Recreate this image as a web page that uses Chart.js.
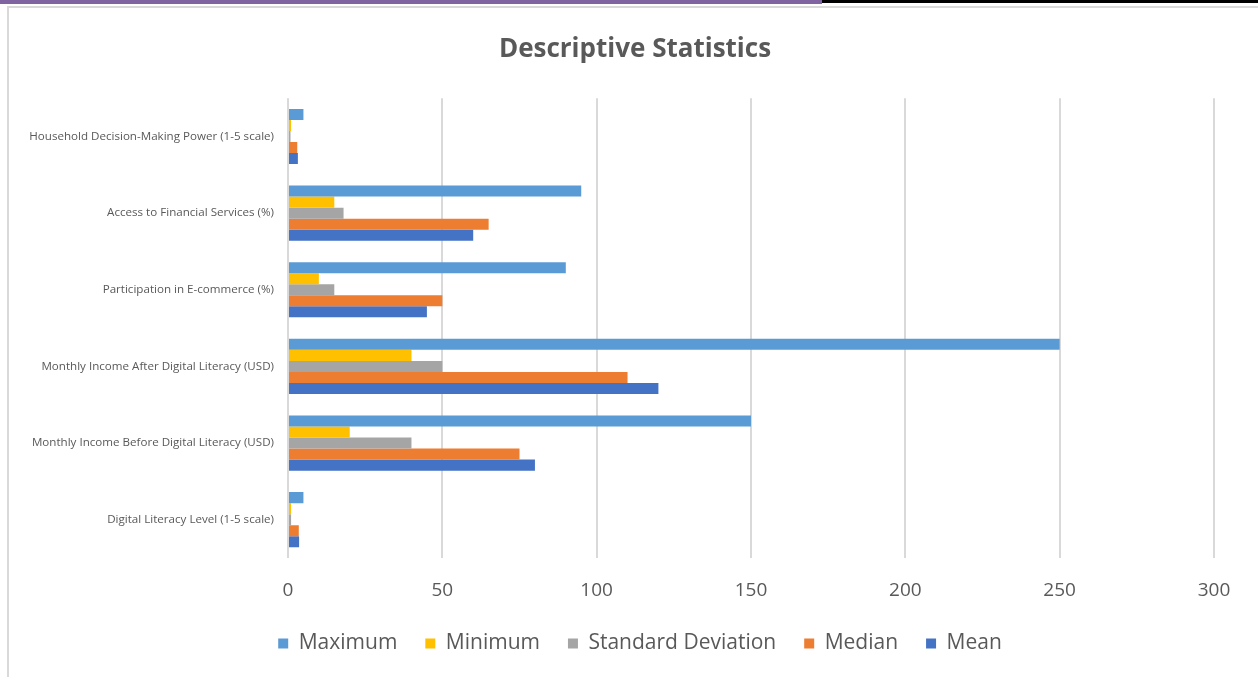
<!DOCTYPE html>
<html>
<head>
<meta charset="utf-8">
<script src="https://cdn.jsdelivr.net/npm/chart.js@4.4.1/dist/chart.umd.min.js"></script>
<style>
  html, body { margin: 0; padding: 0; background: #fff; }
  body { width: 1258px; height: 677px; position: relative; overflow: hidden; }
  #barP { position: absolute; left: 0; top: 0; width: 822px; height: 4px; background: #8064a2; }
  #barK { position: absolute; left: 822px; top: 0; width: 436px; height: 3px; background: #000; }
  #frame { position: absolute; left: 7px; top: 6px; width: 1260px; height: 680px;
           border-left: 2px solid #d9d9d9; border-top: 2px solid #d9d9d9; }
  #wrap { position: absolute; left: 0; top: 0; width: 1258px; height: 677px; }
</style>
</head>
<body>
<div id="barP"></div><div id="barK"></div><div id="frame"></div>
<div id="wrap"><canvas id="c" width="1258" height="677"></canvas></div>
<script>
const categories = [
  "Household Decision-Making Power (1-5 scale)",
  "Access to Financial Services (%)",
  "Participation in E-commerce (%)",
  "Monthly Income After Digital Literacy (USD)",
  "Monthly Income Before Digital Literacy (USD)",
  "Digital Literacy Level (1-5 scale)"
];
const maximum = [5, 95, 90, 250, 150, 5];
const minimum = [1, 15, 10, 40, 20, 1];
const stdDev  = [0.8, 18, 15, 50, 40, 1];
const median  = [3, 65, 50, 110, 75, 3.5];
const mean    = [3.2, 60, 45, 120, 80, 3.6];
const xTicks  = [0, 50, 100, 150, 200, 250, 300];

const seriesNames = ["Maximum", "Minimum", "Standard Deviation", "Median", "Mean"];
const seriesData = [maximum, minimum, stdDev, median, mean];
const seriesColors = ["#5B9BD5", "#FFC000", "#A5A5A5", "#ED7D31", "#4472C4"];

const FONT = "'Open Sans', 'Liberation Sans', Arial, sans-serif";

// shift centred title and legend to match the reference's centring
const centreShift = {
  id: 'centreShift',
  afterLayout(chart) {
    const t = chart.titleBlock;
    if (t) { t.left += 18; t.right += 18; }
    const l = chart.legend;
    if (l) { l.left += 23; l.right += 23; }
  }
};

new Chart(document.getElementById('c'), {
  type: 'bar',
  data: {
    labels: categories,
    datasets: seriesNames.map((n, i) => ({
      label: n,
      data: seriesData[i],
      backgroundColor: seriesColors[i],
      borderWidth: 0,
      barPercentage: 1.0,
      categoryPercentage: 0.72
    }))
  },
  plugins: [centreShift],
  options: {
    indexAxis: 'y',
    responsive: false,
    animation: false,
    layout: { padding: { left: 20, right: 44, top: 10, bottom: 13 } },
    plugins: {
      title: {
        display: true,
        text: 'Descriptive Statistics',
        color: '#595959',
        font: { family: FONT, size: 26, weight: 'bold' },
        padding: { top: 24, bottom: 33 }
      },
      legend: {
        position: 'bottom',
        labels: {
          color: '#595959',
          font: { family: FONT, size: 21 },
          boxWidth: 10, boxHeight: 10,
          padding: 28
        }
      },
      tooltip: { enabled: false }
    },
    scales: {
      x: {
        min: 0, max: 300,
        afterBuildTicks: (s) => { s.ticks = xTicks.map(v => ({ value: v })); },
        grid: { color: '#d9d9d9', lineWidth: 2, drawTicks: false },
        border: { display: false },
        ticks: { color: '#595959', font: { family: FONT, size: 19 }, padding: 21 },
        afterFit: (s) => { s.height = 47; }
      },
      y: {
        grid: { display: false, drawTicks: false },
        border: { display: false },
        ticks: { color: '#595959', font: { family: FONT, size: 11.6 }, padding: 14, autoSkip: false },
        afterFit: (s) => { s.width = 268; }
      }
    }
  }
});
</script>
</body>
</html>
